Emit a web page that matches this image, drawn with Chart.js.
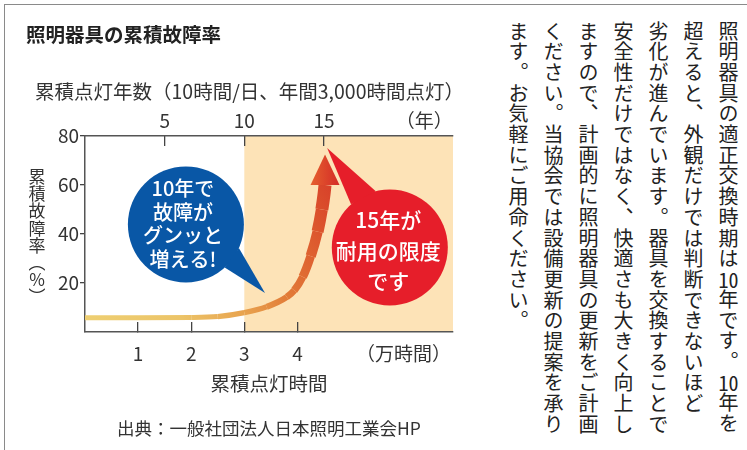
<!DOCTYPE html>
<html lang="ja">
<head>
<meta charset="utf-8">
<title>照明器具の累積故障率</title>
<script src="https://cdn.jsdelivr.net/npm/chart.js@4.4.1/dist/chart.umd.min.js"></script>
<style>
html, body { margin: 0; padding: 0; background: #fff; }
body { width: 747px; height: 450px; position: relative; overflow: hidden; font-family: "Noto Sans CJK JP", sans-serif; color: #333; }
#frame { position: absolute; left: 4px; top: 4px; right: -10px; bottom: -10px; border-left: 1.5px solid #8a8a8a; border-top: 1.5px solid #8a8a8a; }
#c { position: absolute; left: 0; top: 0; }
#title { position: absolute; left: 26px; top: 23px; font-size: 19.5px; font-weight: 700; line-height: 22px; color: #222; }
#toptitle { position: absolute; right: 283px; top: 80px; font-size: 19.5px; line-height: 22px; color: #333; white-space: nowrap; }
#ytitle { position: absolute; left: 27px; top: 167px; width: 20px; font-size: 17px; line-height: 17.2px; text-align: center; color: #333; }
#source { position: absolute; left: 117px; top: 417px; font-size: 17.5px; line-height: 22px; color: #333; white-space: nowrap; }
#note { position: absolute; top: 21px; right: 1px; height: 440px; writing-mode: vertical-rl; font-size: 20px; line-height: 35px; letter-spacing: 0.7px; color: #222; white-space: nowrap; }
.tcy { text-combine-upright: all; }
</style>
</head>
<body>
<div id="frame"></div>
<canvas id="c" width="480" height="450"></canvas>
<div id="title">照明器具の累積故障率</div>
<div id="toptitle">累積点灯年数（10時間/日、年間3,000時間点灯）</div>
<div id="ytitle">累<br>積<br>故<br>障<br>率<br>︵<br>%<br>︶</div>
<div id="source">出典：一般社団法人日本照明工業会HP</div>
<div id="note">照明器具の適正交換時期は<span class="tcy">10</span>年です。<span class="tcy">10</span>年を<br>超えると、外観だけでは判断できないほど<br>劣化が進んでいます。器具を交換することで<br>安全性だけではなく、快適さも大きく向上し<br>ますので、計画的に照明器具の更新をご計画<br>ください。当協会では設備更新の提案を承り<br>ます。お気軽にご用命ください。</div>
<script>
// 累積点灯時間（万時間） / 累積故障率（%）
var hours = [0, 1, 2, 2.5, 3, 3.42, 3.8, 3.94, 4.1, 4.25, 4.38, 4.46, 4.5, 4.52];
var failureRate = [5.8, 5.8, 5.9, 6.3, 7.9, 10.3, 14.3, 17, 22.5, 31, 41, 50, 56, 60];
var arrowTip = [4.52, 72.5];

var hourTicks = [1, 2, 3, 4];
var yearTicks = [5, 10, 15];
var rateTicks = [20, 40, 60, 80];
var hourUnit = '（万時間）';
var yearUnit = '（年）';
var hourMax = 6.93;
var yearsPer10kHours = 10 / 3;   // 10時間/日 -> 3,000時間/年
var serviceLifeFrom = 3;          // 10年 = 3万時間

// where the unit labels sit on each axis
var hourUnitAt = 6.0;
var yearUnitAt = 21.3;

var callouts = [
    { lines: ['10年で', '故障が', 'グンッと', '増える!'], at: [1.9, 43.9], tip: [3.39, 15.9],
      color: '#0957a6', radius: 58, tail: [24, 48], size: 20, gap: 23.7, dx: -3, dy: -36 },
    { lines: ['15年が', '耐用の限度', 'です'], at: [5.74, 34.5], tip: [4.56, 75.1],
      color: '#e61e2a', radius: 58, tail: [-132, -104], size: 21, gap: 30.5, dx: -1.5, dy: -27 }
];

var FONT = '"Noto Sans CJK JP", sans-serif';
Chart.defaults.font.family = FONT;

function curveGradient(chart) {
    var s = chart.scales;
    if (!chart.chartArea) return '#e8a24e';
    var g = chart.ctx.createLinearGradient(
        s.x.getPixelForValue(0), s.y.getPixelForValue(6),
        s.x.getPixelForValue(4.52), s.y.getPixelForValue(62));
    g.addColorStop(0, '#eecf72');
    g.addColorStop(0.3, '#ecc468');
    g.addColorStop(0.51, '#e8a24e');
    g.addColorStop(0.67, '#e27c38');
    g.addColorStop(0.86, '#dd5a2e');
    g.addColorStop(1, '#d8432a');
    return g;
}

var shadePlugin = {
    id: 'shade',
    beforeDraw: function (chart) {
        var a = chart.chartArea, ctx = chart.ctx;
        var x0 = chart.scales.x.getPixelForValue(serviceLifeFrom);
        ctx.save();
        ctx.fillStyle = '#fde3b7';
        ctx.fillRect(x0, a.top, a.right - x0, a.bottom - a.top);
        ctx.restore();
    }
};

var arrowPlugin = {
    id: 'arrowHead',
    afterDatasetsDraw: function (chart) {
        var meta = chart.getDatasetMeta(0);
        var last = meta.data[meta.data.length - 1];
        var tx = chart.scales.x.getPixelForValue(arrowTip[0]);
        var ty = chart.scales.y.getPixelForValue(arrowTip[1]);
        var half = 14.5;
        var ctx = chart.ctx;
        var g = ctx.createLinearGradient(last.x - half, 0, last.x + half, 0);
        g.addColorStop(0, '#e5602e');
        g.addColorStop(1, '#d42b27');
        ctx.save();
        ctx.fillStyle = g;
        ctx.beginPath();
        ctx.moveTo(tx, ty);
        ctx.lineTo(last.x + half, last.y);
        ctx.lineTo(last.x - half, last.y);
        ctx.closePath();
        ctx.fill();
        ctx.restore();
    }
};

var calloutPlugin = {
    id: 'callouts',
    afterDatasetsDraw: function (chart) {
        var ctx = chart.ctx, sx = chart.scales.x, sy = chart.scales.y;
        callouts.forEach(function (c) {
            var cx = sx.getPixelForValue(c.at[0]);
            var cy = sy.getPixelForValue(c.at[1]);
            var px = sx.getPixelForValue(c.tip[0]);
            var py = sy.getPixelForValue(c.tip[1]);
            var a0 = c.tail[0] * Math.PI / 180, a1 = c.tail[1] * Math.PI / 180;
            ctx.save();
            ctx.fillStyle = c.color;
            ctx.beginPath();
            ctx.arc(cx, cy, c.radius, 0, Math.PI * 2);
            ctx.fill();
            ctx.beginPath();
            ctx.moveTo(cx + c.radius * Math.cos(a0), cy + c.radius * Math.sin(a0));
            ctx.lineTo(px, py);
            ctx.lineTo(cx + c.radius * Math.cos(a1), cy + c.radius * Math.sin(a1));
            ctx.closePath();
            ctx.fill();
            ctx.fillStyle = '#fff';
            ctx.font = '500 ' + c.size + 'px ' + FONT;
            ctx.textAlign = 'center';
            ctx.textBaseline = 'middle';
            c.lines.forEach(function (t, i) {
                ctx.fillText(t, cx + c.dx, cy + c.dy + i * c.gap);
            });
            ctx.restore();
        });
    }
};

function labelFrom(values, labels) {
    return function (v) {
        var i = values.indexOf(v);
        return i < 0 ? '' : labels[i];
    };
}

var tickFont = { size: 19 };
var axisColor = '#555';

new Chart(document.getElementById('c'), {
    type: 'line',
    data: {
        datasets: [{
            data: hours.map(function (h, i) { return { x: h, y: failureRate[i] }; }),
            xAxisID: 'x',
            yAxisID: 'y',
            cubicInterpolationMode: 'monotone',
            pointRadius: 0,
            borderCapStyle: 'butt',
            borderJoinStyle: 'round',
            borderWidth: 5,
            borderColor: function (ctx) { return curveGradient(ctx.chart); },
            segment: {
                borderWidth: function (c) {
                    var v = (c.p0.parsed.y + c.p1.parsed.y) / 2;
                    return 5 + 8 * Math.min(1, Math.max(0, (v - 6) / 45));
                }
            },
            clip: 0
        }]
    },
    options: {
        responsive: false,
        animation: false,
        devicePixelRatio: 1,
        layout: { padding: { left: 0, right: 27, top: 0, bottom: 0 } },
        plugins: { legend: { display: false }, tooltip: { enabled: false } },
        scales: {
            x: {
                type: 'linear',
                position: 'bottom',
                min: 0,
                max: hourMax,
                afterBuildTicks: function (s) {
                    s.ticks = hourTicks.concat([hourUnitAt]).map(function (v) { return { value: v }; });
                },
                afterFit: function (s) { s.height = 118; },
                ticks: {
                    autoSkip: false, maxRotation: 0, padding: 19.9, color: '#333', font: tickFont,
                    callback: labelFrom(hourTicks.concat([hourUnitAt]), hourTicks.map(String).concat([hourUnit]))
                },
                grid: {
                    drawOnChartArea: false, tickLength: -10, lineWidth: 1.3,
                    color: function (c) { return c.tick && c.tick.value === hourUnitAt ? 'rgba(0,0,0,0)' : '#444'; },
                    tickColor: function (c) { return c.tick && c.tick.value === hourUnitAt ? 'rgba(0,0,0,0)' : '#444'; }
                },
                border: { display: true, color: axisColor, width: 1.5 },
                title: {
                    display: true, text: '累積点灯時間', color: '#333',
                    font: { size: 19.5 }, padding: { top: 0, bottom: 55 }
                }
            },
            xTop: {
                type: 'linear',
                position: 'top',
                min: 0,
                max: hourMax * yearsPer10kHours,
                afterBuildTicks: function (s) {
                    s.ticks = yearTicks.concat([yearUnitAt]).map(function (v) { return { value: v }; });
                },
                afterFit: function (s) { s.height = 136; },
                ticks: {
                    autoSkip: false, maxRotation: 0, padding: 13.8, color: '#333', font: tickFont,
                    callback: labelFrom(yearTicks.concat([yearUnitAt]), yearTicks.map(String).concat([yearUnit]))
                },
                grid: {
                    drawOnChartArea: false, tickLength: -10, lineWidth: 1.3,
                    color: function (c) { return c.tick && c.tick.value === yearUnitAt ? 'rgba(0,0,0,0)' : '#444'; },
                    tickColor: function (c) { return c.tick && c.tick.value === yearUnitAt ? 'rgba(0,0,0,0)' : '#444'; }
                },
                border: { display: true, color: axisColor, width: 1.5 }
            },
            y: {
                min: 0,
                max: 80,
                afterBuildTicks: function (s) {
                    s.ticks = rateTicks.map(function (v) { return { value: v }; });
                },
                afterFit: function (s) { s.width = 85; },
                ticks: { padding: 1, color: '#333', font: tickFont },
                grid: { drawOnChartArea: false, tickLength: 5, color: '#444', lineWidth: 1.3 },
                border: { display: true, color: axisColor, width: 1.5 }
            }
        }
    },
    plugins: [shadePlugin, arrowPlugin, calloutPlugin]
});
</script>
</body>
</html>
